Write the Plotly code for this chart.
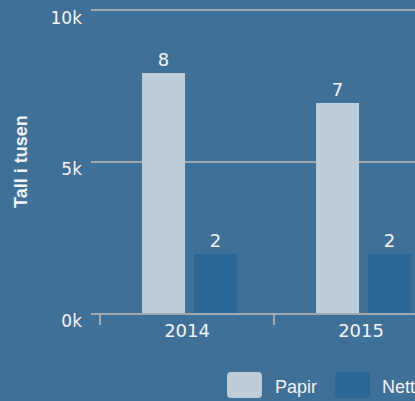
import plotly.graph_objects as go

# Data (values in thousands)
years = ["2014", "2015"]
papir = [7.92, 6.93]
nett = [1.95, 1.95]
series_names = ["Papir", "Nett"]
y_tickvals = [0, 5, 10]
y_ticktext = ["0k", "5k", "10k"]

BG = "#3f7098"
C_PAPIR = "#bdccd7"
C_NETT = "#2b6795"
GRID = "#a3a8ad"
TXT = "#f2f4f6"

W, H = 415, 401
ML, MR, MT, MB = 91, 0, 7, 88
PW, PH = W - ML - MR, H - MT - MB
Y_TOP = 10 * PH / 303.0  # keep 10k at 10 px from top

fig = go.Figure()
for name, vals, col, off in [(series_names[0], papir, C_PAPIR, -0.2586),
                             (series_names[1], nett, C_NETT, 0.0402)]:
    fig.add_trace(go.Bar(
        x=years, y=vals, name=name, marker_color=col,
        marker_line_width=0,
        offset=off, width=0.247,
        text=[f"{v:.0f}" for v in vals], textposition="outside",
        textfont=dict(color=TXT, size=18, family="DejaVu Sans"),
        cliponaxis=False, showlegend=False,
    ))

def px2paper(px, py):
    return (px - ML) / PW, (H - MB - py) / PH

def rounded_rect(x0, y0, x1, y1, r=4):
    def P(x, y):
        a, b = px2paper(x, y)
        return f"{a:.5f},{b:.5f}"
    return (f"M {P(x0 + r, y0)} L {P(x1 - r, y0)} Q {P(x1, y0)} {P(x1, y0 + r)} "
            f"L {P(x1, y1 - r)} Q {P(x1, y1)} {P(x1 - r, y1)} "
            f"L {P(x0 + r, y1)} Q {P(x0, y1)} {P(x0, y1 - r)} "
            f"L {P(x0, y0 + r)} Q {P(x0, y0)} {P(x0 + r, y0)} Z")

shapes = []
annotations = []
legend_items = [(series_names[0], C_PAPIR, 227, 273), (series_names[1], C_NETT, 335, 380)]
for name, col, sx, tx in legend_items:
    shapes.append(dict(type="path", xref="paper", yref="paper",
                       path=rounded_rect(sx, 372, sx + 35, 398, 4),
                       fillcolor=col, line=dict(width=0)))
    ax, ay = px2paper(tx, 387)
    annotations.append(dict(xref="paper", yref="paper", x=ax, y=ay,
                            xanchor="left", yanchor="middle", showarrow=False,
                            text=name, font=dict(color=TXT, size=18,
                                                 family="Liberation Sans")))

# y-axis title
tx, ty = px2paper(21, 162)
annotations.append(dict(xref="paper", yref="paper", x=tx, y=ty, textangle=-90,
                        xanchor="center", yanchor="middle", showarrow=False,
                        text="<b>Tall i tusen</b>",
                        font=dict(color=TXT, size=18, family="Liberation Sans")))

fig.update_layout(
    width=W, height=H,
    margin=dict(l=ML, r=MR, t=MT, b=MB, autoexpand=False),
    paper_bgcolor=BG, plot_bgcolor=BG,
    barmode="overlay",
    shapes=shapes, annotations=annotations,
    showlegend=False,
    xaxis=dict(
        type="category", range=[-0.552, 1.31],
        showgrid=False, showline=True, linecolor=GRID, linewidth=2,
        ticks="outside", tickson="boundaries", ticklen=10, tickwidth=2,
        tickcolor=GRID,
        tickfont=dict(color=TXT, size=18, family="DejaVu Sans"),
        fixedrange=True,
    ),
    yaxis=dict(
        range=[0, Y_TOP], tickvals=y_tickvals, ticktext=y_ticktext,
        showgrid=True, gridcolor=GRID, gridwidth=2,
        zeroline=False, showline=False,
        ticklabelshift=8, ticklabelstandoff=8,
        tickfont=dict(color=TXT, size=17, family="DejaVu Sans"),
        fixedrange=True,
    ),
)

fig.write_html(
    "out.html",
    config={"displayModeBar": False},
    post_script="document.body.style.margin='0';document.body.style.overflow='hidden';",
)
